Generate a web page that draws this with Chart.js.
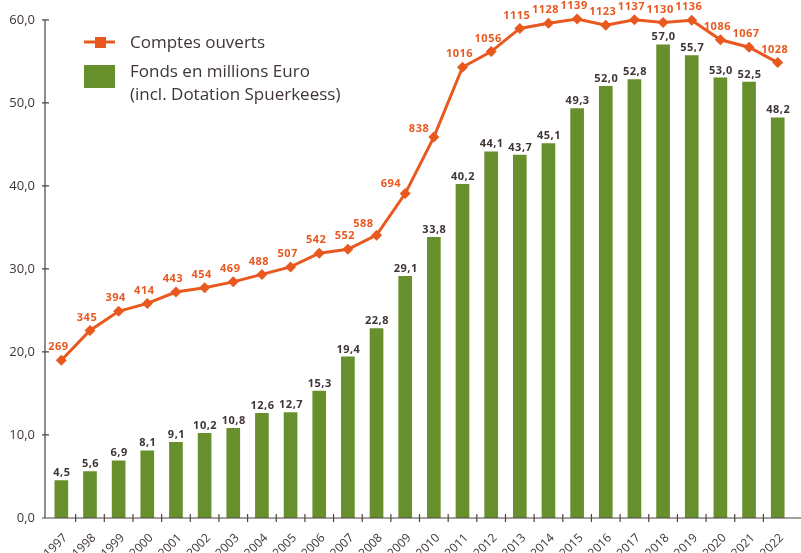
<!DOCTYPE html>
<html>
<head>
<meta charset="utf-8">
<script src="https://cdn.jsdelivr.net/npm/chart.js@4/dist/chart.umd.min.js"></script>
<style>
  html, body { margin: 0; padding: 0; background: #fff; }
</style>
</head>
<body>
<canvas id="myChart" width="801" height="553"></canvas>
<script>
const years = ['1997', '1998', '1999', '2000', '2001', '2002', '2003', '2004', '2005', '2006', '2007', '2008', '2009',
    '2010', '2011', '2012', '2013', '2014', '2015', '2016', '2017', '2018', '2019', '2020', '2021', '2022'];
const comptes = [269, 345, 394, 414, 443, 454, 469, 488, 507, 542, 552, 588, 694,
    838, 1016, 1056, 1115, 1128, 1139, 1123, 1137, 1130, 1136, 1086, 1067, 1028];
const fonds = [4.5, 5.6, 6.9, 8.1, 9.1, 10.2, 10.8, 12.6, 12.7, 15.3, 19.4, 22.8, 29.1,
    33.8, 40.2, 44.1, 43.7, 45.1, 49.3, 52.0, 52.8, 57.0, 55.7, 53.0, 52.5, 48.2];
const yTicks = [0, 10, 20, 30, 40, 50, 60];

const ORANGE = '#e9581f';
const GREEN = '#67902c';
const TEXT = '#3f3535';
const AXIS = '#4d4242';
const FONT = '"Open Sans", "DejaVu Sans", sans-serif';

const fmt = v => v.toFixed(1).replace('.', ',');

// axes drawn by hand, the ticks cross the axis lines
const axesPlugin = {
    id: 'axes',
    afterDraw(chart) {
        const ctx = chart.ctx;
        const x = chart.scales.x, y = chart.scales.y;
        const x0 = 45, y0 = y.getPixelForValue(0);
        ctx.save();
        ctx.strokeStyle = AXIS;
        ctx.lineWidth = 1.2;
        ctx.beginPath();
        ctx.moveTo(x0, y.getPixelForValue(60));
        ctx.lineTo(x0, y0);
        ctx.moveTo(42, y0);
        ctx.lineTo(801, y0);
        yTicks.forEach(t => {
            const py = y.getPixelForValue(t);
            ctx.moveTo(42, py);
            ctx.lineTo(49, py);
        });
        for (let i = 0; i < years.length - 1; i++) {
            const px = (x.getPixelForValue(i) + x.getPixelForValue(i + 1)) / 2;
            ctx.moveTo(px, y0 - 4);
            ctx.lineTo(px, y0 + 4);
        }
        ctx.stroke();
        ctx.restore();
    }
};

// values written above the bars and points
const labelsPlugin = {
    id: 'valueLabels',
    afterDatasetsDraw(chart) {
        const ctx = chart.ctx;
        ctx.save();
        ctx.font = 'bold 11px ' + FONT;
        ctx.textAlign = 'center';
        ctx.letterSpacing = '0.5px';

        const bars = chart.getDatasetMeta(1).data;
        ctx.fillStyle = TEXT;
        ctx.textBaseline = 'bottom';
        bars.forEach((b, i) => {
            ctx.fillText(fmt(fonds[i]), b.x + 0.5, b.y - 2);
        });

        const pts = chart.getDatasetMeta(0).data;
        ctx.fillStyle = ORANGE;
        ctx.textBaseline = 'middle';
        pts.forEach((p, i) => {
            let ox = -3, oy = -13;
            const c = pts[i + 1];
            if (c) {
                const dx = c.x - p.x, dy = c.y - p.y;
                if (-dy / dx > 1.2) {
                    // steep climb: push the label to the left of the line
                    const len = Math.hypot(dx, dy);
                    ox = dy / len * 16;
                    oy = -dx / len * 16 - 2;
                }
            }
            ctx.fillText(String(comptes[i]), p.x + ox, p.y + oy);
        });
        ctx.restore();
    }
};

const legendPlugin = {
    id: 'customLegend',
    afterDraw(chart) {
        const ctx = chart.ctx;
        const ds = chart.data.datasets;
        ctx.save();
        ctx.font = '17px ' + FONT;
        ctx.fillStyle = TEXT;
        ctx.textBaseline = 'middle';
        ctx.textAlign = 'left';

        ctx.strokeStyle = ds[0].borderColor;
        ctx.lineWidth = 3;
        ctx.beginPath();
        ctx.moveTo(84, 42);
        ctx.lineTo(115, 42);
        ctx.stroke();
        ctx.fillStyle = ds[0].borderColor;
        ctx.fillRect(95, 37, 11, 11);
        ctx.fillStyle = TEXT;
        ctx.fillText(ds[0].label, 130, 43);

        ctx.fillStyle = ds[1].backgroundColor;
        ctx.fillRect(84, 65, 31, 23);
        ctx.fillStyle = TEXT;
        ds[1].label.split('\n').forEach((line, i) => {
            ctx.fillText(line, 130, 72 + i * 23);
        });
        ctx.restore();
    }
};

const ctx = document.getElementById('myChart').getContext('2d');
const chart = new Chart(ctx, {
    data: {
        labels: years,
        datasets: [{
            type: 'line',
            label: 'Comptes ouverts',
            data: comptes,
            yAxisID: 'y2',
            borderColor: ORANGE,
            backgroundColor: ORANGE,
            borderWidth: 3,
            pointStyle: 'rectRot',
            pointRadius: 5.5,
            pointBorderWidth: 0,
            tension: 0,
            clip: false
        }, {
            type: 'bar',
            label: 'Fonds en millions Euro\n(incl. Dotation Spuerkeess)',
            data: fonds,
            yAxisID: 'y',
            backgroundColor: GREEN,
            barThickness: 13
        }]
    },
    options: {
        responsive: false,
        animation: false,
        devicePixelRatio: 1,
        layout: { padding: { top: 19, right: 0, left: 0, bottom: 0 } },
        plugins: {
            legend: { display: false },
            tooltip: { enabled: false }
        },
        scales: {
            x: {
                grid: { display: false, drawTicks: false },
                border: { display: false },
                ticks: {
                    color: TEXT,
                    font: { family: FONT, size: 12 },
                    maxRotation: 45,
                    minRotation: 45,
                    padding: 13,
                    labelOffset: 4
                },
                afterFit: s => { s.height = 35; }
            },
            y: {
                position: 'left',
                min: 0,
                max: 60,
                grid: { display: false, drawTicks: false },
                border: { display: false },
                afterBuildTicks: s => { s.ticks = yTicks.map(v => ({ value: v })); },
                ticks: {
                    color: TEXT,
                    font: { family: FONT, size: 13 },
                    padding: 12,
                    callback: v => fmt(v)
                },
                afterFit: s => { s.width = 47; }
            },
            y2: {
                display: false,
                min: -133,
                max: 1137
            }
        }
    },
    plugins: [axesPlugin, labelsPlugin, legendPlugin]
});
</script>
</body>
</html>
